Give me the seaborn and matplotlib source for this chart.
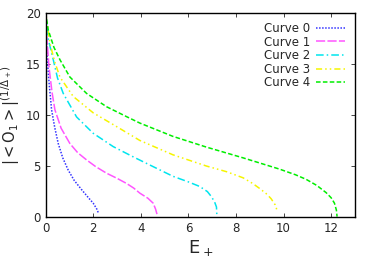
import numpy as np
import pandas as pd
import seaborn as sns
import matplotlib
matplotlib.use('Agg')
import matplotlib.pyplot as plt

# curves (E+ , |<O1>|^(1/Delta+))
x0 = [0, 0.02, 0.07, 0.15, 0.25, 0.38, 0.53, 0.72, 0.95, 1.2, 1.51, 1.8, 2.0, 2.15, 2.22]
y0 = [20, 18, 15.4, 13, 10.5, 8.8, 7.2, 5.8, 4.6, 3.6, 2.7, 1.9, 1.37, 0.8, 0.4]

x1 = [0, 0.05, 0.15, 0.27, 0.39, 0.65, 1.02, 1.35, 1.72, 2.1, 2.56, 3.0, 3.4, 3.7, 3.96, 4.3, 4.52, 4.62, 4.68]
y1 = [20, 17.5, 14.5, 12.2, 10.5, 8.7, 7.2, 6.3, 5.6, 4.95, 4.3, 3.8, 3.3, 2.85, 2.35, 1.85, 1.37, 0.8, 0.3]

x2 = [0, 0.1, 0.32, 0.5, 0.74, 1.3, 2.0, 2.84, 3.68, 4.38, 5.35, 6.0, 6.48, 6.8, 6.97, 7.1, 7.18, 7.2]
y2 = [20, 17.5, 15.4, 13.6, 12.1, 9.8, 8.2, 6.9, 5.9, 5.1, 4.0, 3.45, 3.0, 2.5, 2.0, 1.5, 1.0, 0.06]

x3 = [0, 0.18, 0.38, 0.6, 1.16, 2.0, 2.98, 3.96, 5.35, 6.76, 7.6, 8.3, 8.7, 9.0, 9.3, 9.48, 9.65, 9.72]
y3 = [20, 17.0, 15.2, 13.7, 11.8, 10.2, 8.86, 7.5, 6.1, 5.0, 4.45, 3.85, 3.3, 2.8, 2.25, 1.8, 1.2, 0.71]

x4 = [0, 0.11, 0.35, 0.6, 1.02, 1.72, 2.56, 3.4, 3.96, 5.35, 6.76, 8.3, 9.83, 10.5, 10.95, 11.4, 11.79, 12.0, 12.14, 12.22, 12.25]
y4 = [20, 18.3, 16.6, 15.4, 13.7, 12.1, 10.8, 9.83, 9.2, 7.9, 6.85, 5.8, 4.7, 4.15, 3.7, 3.1, 2.4, 1.9, 1.37, 0.7, 0.06]

names = ['Curve 0', 'Curve 1', 'Curve 2', 'Curve 3', 'Curve 4']
colors = ['#3333ff', '#ff55ff', '#00e5ee', '#f5f500', '#00ee00']
styles = [(0, (1, 1)), (0, (6, 1.5)), (0, (5, 2, 1, 2)), (0, (4, 2, 1, 2, 1, 2)), (0, (3, 1.5))]

sns.set_style('ticks')
plt.rcParams['font.family'] = ['DejaVu Sans']
plt.rcParams['mathtext.default'] = 'regular'

fig = plt.figure(figsize=(3.74, 2.62), dpi=100)
ax = fig.add_axes([0.122, 0.171, 0.827, 0.781])

xs = [x0, x1, x2, x3, x4]
ys = [y0, y1, y2, y3, y4]
for i in range(5):
    sns.lineplot(x=xs[i], y=ys[i], sort=False, estimator=None, ax=ax,
                 color=colors[i], linestyle=styles[i], linewidth=1.1, label=names[i])

ax.set_xlim(0, 13)
ax.set_ylim(0, 20)
ax.set_xticks(np.arange(0, 13, 2))
ax.set_yticks(np.arange(0, 21, 5))
ax.tick_params(direction='in', top=True, right=True, labelsize=8.5, length=3, width=0.6)
for s in ax.spines.values():
    s.set_linewidth(1.0)
    s.set_color('black')

ax.set_xlabel('$E_+$', fontsize=13, labelpad=2)
ax.set_ylabel(r'$|{<}O_1{>}|^{(1/\Delta_+)}$', fontsize=10.5)
ax.yaxis.set_label_coords(-0.075, 0.5)

ax.legend(loc='upper right', frameon=False, markerfirst=False, fontsize=8.5,
          handlelength=2.5, labelspacing=0.05, borderaxespad=0.4, handletextpad=0.5)

fig.savefig('out.png', dpi=100)
